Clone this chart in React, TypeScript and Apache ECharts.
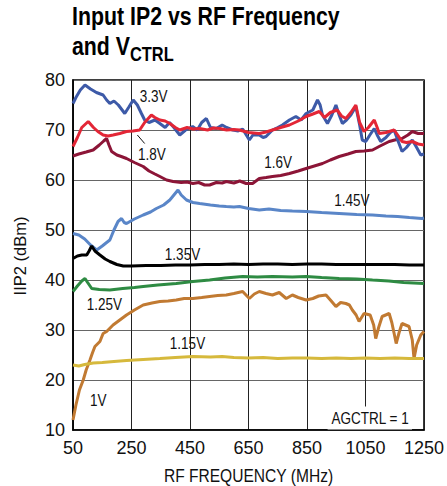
import React, { useEffect, useRef } from "react";
import * as echarts from "echarts";

const FONT = "'Liberation Sans', Arial, Helvetica, sans-serif";
const NARROW = 0.82;

const xTicks = [50, 250, 450, 650, 850, 1050, 1250];
const yTicks = [10, 20, 30, 40, 50, 60, 70, 80];

const v33: [number, number][] = [
  [50, 75.3], [60, 76.5], [75, 78], [91, 79], [110, 78.2], [130, 77.5], [153, 77], [165, 76], [176, 75.3],
  [190, 75.8], [205, 75], [218, 74], [227, 73.3], [240, 74.5], [256, 76], [270, 75], [284, 73.3], [295, 72],
  [310, 71.5], [330, 72], [347, 71.3], [365, 70.5], [380, 71.5], [395, 70.5], [415, 69], [435, 70], [459, 70.7],
  [475, 70], [490, 71.5], [506, 72.3], [520, 70.5], [540, 70.3], [560, 71], [575, 70.5], [596, 70], [615, 69.8],
  [630, 70.2], [653, 68], [665, 69], [687, 69], [700, 68.5], [710, 68.7], [732, 70], [750, 70.5], [766, 71],
  [790, 72], [812, 72.7], [830, 72], [847, 73.3], [870, 74], [886, 76], [895, 75], [903, 73], [920, 71.3],
  [935, 73], [949, 75], [960, 73], [971, 71.3], [985, 72], [1000, 73], [1017, 74.7], [1030, 71], [1039, 68],
  [1051, 67.7], [1065, 69], [1080, 70.3], [1090, 69], [1102, 67.7], [1120, 68.5], [1135, 69.5], [1148, 70],
  [1160, 68], [1175, 65.7], [1190, 66.5], [1210, 68], [1225, 66.5], [1239, 65], [1250, 65.2],
];

const v18: [number, number][] = [
  [50, 66.7], [65, 68.5], [80, 70.5], [102, 71.7], [120, 70.5], [135, 69.7], [153, 69], [170, 68.8], [187, 69],
  [210, 69.3], [233, 69.7], [255, 69.8], [278, 70], [295, 71.5], [318, 73], [330, 72.5], [347, 72], [365, 71.8],
  [381, 71.3], [400, 70.5], [415, 70], [440, 70.5], [460, 70.2], [483, 70.3], [510, 70], [530, 70.4], [551, 70.3],
  [575, 70], [600, 70.1], [619, 70], [650, 69.5], [687, 69.3], [710, 69.6], [732, 70], [760, 70.5], [790, 71],
  [820, 71.8], [847, 72.7], [870, 73.2], [892, 73.7], [910, 72.5], [930, 73.5], [953, 74], [968, 72.8],
  [983, 72.3], [1000, 73.5], [1017, 75], [1030, 71.5], [1045, 69.7], [1060, 70.5], [1080, 72], [1090, 70.5],
  [1097, 69.3], [1120, 69.5], [1148, 70], [1160, 69], [1175, 67.7], [1190, 67.5], [1210, 67.7], [1230, 67.2],
  [1250, 67],
];

const v16: [number, number][] = [
  [50, 64.8], [70, 65.2], [95, 65.6], [119, 66], [140, 67], [155, 67.8], [165, 68.3], [173, 67], [182, 65.7],
  [200, 65], [215, 64.7], [233, 64.3], [260, 63.5], [290, 62.7], [310, 61.8], [330, 61.2], [347, 60.7], [370, 60],
  [392, 59.7], [420, 59.5], [440, 59.6], [460, 59.3], [480, 59.5], [500, 59], [517, 59], [540, 59.5], [560, 59.4],
  [574, 59.7], [600, 59.4], [620, 59.8], [642, 59.3], [664, 59.3], [687, 60.3], [710, 60.5], [732, 60.7],
  [760, 60.9], [790, 61.3], [820, 61.8], [847, 62.3], [875, 62.8], [903, 63.3], [930, 64], [960, 64.7],
  [990, 65.2], [1017, 65.7], [1045, 65.8], [1074, 66], [1100, 66.8], [1131, 67.7], [1150, 68], [1175, 68.3],
  [1195, 69], [1210, 69.7], [1230, 69.3], [1250, 69.3],
];

const v145: [number, number][] = [
  [50, 49.3], [70, 49], [90, 48.2], [110, 47], [131, 46], [150, 46.8], [165, 47.5], [176, 48], [190, 50],
  [204, 51.7], [216, 52.3], [225, 51.5], [233, 51.3], [260, 52.2], [290, 53], [315, 53.6], [335, 54.3],
  [360, 55], [381, 56], [395, 57], [409, 58], [420, 57], [438, 56], [460, 55.5], [483, 55.3], [520, 55],
  [550, 54.8], [574, 54.7], [600, 54.6], [619, 54.7], [650, 54.3], [687, 54], [720, 54.2], [760, 53.9],
  [800, 53.8], [847, 53.7], [900, 53.5], [960, 53.3], [1020, 53.1], [1074, 53], [1120, 52.8], [1160, 52.7],
  [1200, 52.5], [1243, 52.3], [1250, 52.4],
];

const v135: [number, number][] = [
  [50, 44.3], [65, 44.8], [80, 45], [97, 45], [105, 45.8], [114, 46.8], [125, 45.8], [142, 45], [160, 44.2],
  [176, 43.7], [200, 43.1], [222, 42.8], [250, 42.8], [300, 42.9], [350, 42.9], [400, 43], [450, 43],
  [500, 43.1], [550, 43.1], [600, 43.2], [650, 43.1], [700, 43.2], [750, 43.2], [800, 43.1], [850, 43.2],
  [900, 43.2], [950, 43.1], [1000, 43.1], [1050, 43.1], [1100, 43.1], [1150, 43.1], [1200, 43], [1250, 43],
];

const v125: [number, number][] = [
  [50, 37.7], [65, 38.8], [80, 39.8], [91, 40.3], [100, 39.5], [114, 38.3], [140, 38.1], [176, 38], [220, 38.3],
  [260, 38.5], [290, 38.7], [340, 39], [403, 39.3], [460, 39.7], [517, 40], [570, 40.4], [630, 40.7], [680, 40.6],
  [732, 40.7], [800, 40.6], [847, 40.7], [900, 40.5], [960, 40.3], [1020, 40.2], [1074, 40], [1130, 39.8],
  [1180, 39.5], [1250, 39.3],
];

const v10: [number, number][] = [
  [50, 12], [60, 15], [72, 18], [85, 20], [95, 22], [108, 24], [117, 25.5], [125, 26.7], [142, 27.7],
  [153, 29.3], [165, 29.7], [187, 31], [210, 32], [233, 33], [260, 34], [290, 35], [320, 35.4], [347, 35.7],
  [375, 35.8], [403, 36], [430, 36.3], [460, 36.3], [490, 36.5], [517, 36.7], [545, 36.9], [574, 37],
  [600, 37.3], [630, 37.7], [653, 36.3], [670, 37.2], [687, 37.7], [710, 37.3], [732, 37], [755, 37.5],
  [779, 36.3], [800, 37], [820, 36.5], [847, 36], [870, 36.3], [890, 36.8], [915, 37], [930, 36], [949, 34.7],
  [965, 35.5], [983, 35.3], [995, 35], [1005, 34], [1018, 33], [1028, 31.7], [1045, 33.3], [1066, 33],
  [1078, 31], [1085, 28.3], [1095, 30.5], [1107, 32.7], [1131, 33.3], [1140, 31.5], [1148, 29.3], [1155, 27.3],
  [1165, 29.5], [1175, 31.3], [1199, 30.7], [1210, 28], [1216, 24.3], [1225, 27], [1239, 29], [1250, 29.7],
];

const v115: [number, number][] = [
  [50, 23], [70, 22.8], [90, 23.1], [119, 23.4], [150, 23.5], [190, 23.7], [233, 23.9], [290, 24.1],
  [347, 24.3], [400, 24.5], [460, 24.7], [520, 24.6], [560, 24.7], [600, 24.5], [650, 24.4], [700, 24.5],
  [750, 24.3], [800, 24.4], [850, 24.4], [900, 24.3], [950, 24.4], [1000, 24.3], [1050, 24.4], [1100, 24.3],
  [1150, 24.4], [1200, 24.3], [1250, 24.3],
];

// curve labels, anchored in data coordinates [freq, dBm]
const labelNames = ["3.3V", "1.8V", "1.6V", "1.45V", "1.35V", "1.25V", "1.15V", "1V"];
const labelAnchors: [number, number][] = [
  [278, 76.8], [272, 65.3], [704, 63.7], [943, 56], [364, 45.2], [97, 35.2], [381, 27.4], [108, 16.1],
];
const leader18: [number, number][] = [[270, 69], [295, 67.3]];
const noteText = "AGCTRL = 1";
const noteAnchor: [number, number] = [1209, 12.4];
const xName = "RF FREQUENCY (MHz)";
const yName = "IIP2 (dBm)";

export default function App() {
  const ref = useRef<HTMLDivElement>(null);
  useEffect(() => {
    if (!ref.current) return;
    const chart = echarts.init(ref.current, undefined, { renderer: "svg" });
    const mk = (name: string, data: [number, number][], color: string) => ({
      name,
      type: "line",
      data,
      showSymbol: false,
      symbol: "none",
      lineStyle: { color, width: 3 },
      itemStyle: { color },
      z: 3,
    });
    chart.setOption({
      animation: false,
      backgroundColor: "#fff",
      textStyle: { fontFamily: FONT },
      grid: {
        left: 73, right: 22, top: 80, bottom: 56,
        show: true, borderColor: "#000", borderWidth: 1.5, backgroundColor: "transparent",
      },
      xAxis: {
        type: "value", min: xTicks[0], max: xTicks[xTicks.length - 1], interval: 200,
        axisLine: { show: true, lineStyle: { color: "#000", width: 1.5 } },
        axisTick: { show: false },
        splitLine: { show: true, lineStyle: { color: "#222", width: 1 } },
        axisLabel: { color: "#111", fontSize: 18, fontFamily: FONT, margin: 9, formatter: (v: number) => String(v) },
      },
      yAxis: {
        type: "value", min: yTicks[0], max: yTicks[yTicks.length - 1], interval: 10,
        axisLine: { show: true, lineStyle: { color: "#000", width: 1.5 } },
        axisTick: { show: false },
        splitLine: { show: true, lineStyle: { color: "#666", width: 1.2 } },
        axisLabel: { color: "#111", fontSize: 18, fontFamily: FONT, margin: 8, formatter: (v: number) => String(v) },
      },
      series: [
        mk("1.45V", v145, "#5a86c8"),
        mk("1.35V", v135, "#000000"),
        mk("1.25V", v125, "#2e8b43"),
        mk("1V", v10, "#c17a32"),
        mk("1.15V", v115, "#d6b93c"),
        mk("1.6V", v16, "#8c1537"),
        mk("3.3V", v33, "#3d5aa8"),
        mk("1.8V", v18, "#e32636"),
      ],
    });

    const px = (p: [number, number]) => chart.convertToPixel({ gridIndex: 0 }, p) as number[];
    const graphics: any[] = [
      {
        type: "text", x: 72, y: 3, scaleX: NARROW, z: 10,
        style: {
          text: "{a|Input IP2 vs RF Frequency}\n{a|and V}{s|CTRL}",
          fontFamily: FONT, fontWeight: "bold", fontSize: 26, lineHeight: 30, fill: "#000",
          align: "left", verticalAlign: "top",
          rich: {
            a: { fontFamily: FONT, fontWeight: "bold", fontSize: 26, lineHeight: 30, verticalAlign: "top", fill: "#000" },
            s: { fontFamily: FONT, fontWeight: "bold", fontSize: 20, lineHeight: 20, padding: [11, 0, 0, 0], verticalAlign: "top", fill: "#000" },
          },
        },
      },
    ];
    // axis names
    const c0 = px([xTicks[0], yTicks[0]]);
    const c1 = px([xTicks[xTicks.length - 1], yTicks[yTicks.length - 1]]);
    graphics.push({
      type: "text", x: (c0[0] + c1[0]) / 2, y: c0[1] + 45, scaleX: NARROW, z: 10,
      style: { text: xName, fontFamily: FONT, fontSize: 19, fill: "#111", align: "center", verticalAlign: "middle" },
    });
    graphics.push({
      type: "text", x: c0[0] - 53, y: (c0[1] + c1[1]) / 2 + 1, rotation: Math.PI / 2, z: 10,
      style: { text: yName, fontFamily: FONT, fontSize: 16.5, fill: "#111", align: "center", verticalAlign: "middle" },
    });
    labelNames.forEach((t, i) => {
      const p = px(labelAnchors[i]);
      graphics.push({
        type: "text", x: p[0], y: p[1], scaleX: NARROW, z: 10,
        style: { text: t, fontFamily: FONT, fontSize: 16.5, fill: "#111", align: "left", verticalAlign: "middle" },
      });
    });
    const a = px(leader18[0]);
    const b = px(leader18[1]);
    graphics.push({ type: "line", z: 10, shape: { x1: a[0], y1: a[1], x2: b[0], y2: b[1] }, style: { stroke: "#111", lineWidth: 1 } });
    const n = px(noteAnchor);
    graphics.push({
      type: "text", x: n[0], y: n[1], scaleX: NARROW, z: 10,
      style: {
        text: noteText, fontFamily: FONT, fontSize: 16.5, fill: "#111", align: "right", verticalAlign: "middle",
        backgroundColor: "#fff", padding: [3, 4, 3, 4],
      },
    });
    chart.setOption({ graphic: graphics });

    return () => chart.dispose();
  }, []);
  return <div ref={ref} style={{ position: "fixed", left: 0, top: 0, width: 447, height: 486 }} />;
}
